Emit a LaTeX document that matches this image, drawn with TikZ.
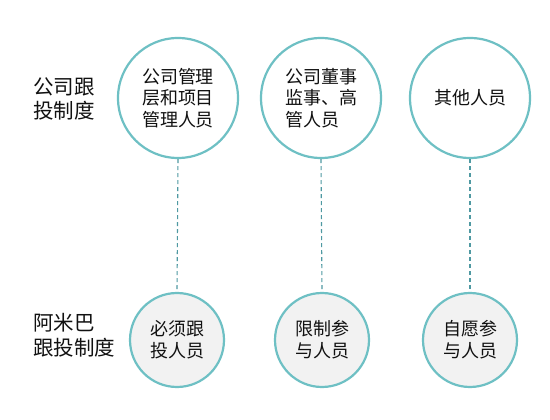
\documentclass[tikz,border=0pt]{standalone}
\usepackage{fontspec}
\setmainfont{Noto Sans CJK SC}
\begin{document}
\begin{tikzpicture}[x=1pt,y=-1pt,
  topc/.style={circle,draw=ring,line width=2.2pt,minimum size=120pt,inner sep=0pt,font=\fontsize{18}{21.5}\selectfont,text=txt},
  botc/.style={circle,draw=ring,fill=fillg,line width=2.2pt,minimum size=94pt,inner sep=0pt,font=\fontsize{18}{22}\selectfont,text=txt},
  lab/.style={anchor=west,align=left,inner sep=0pt,font=\fontsize{20.5}{24.5}\selectfont,text=txt},
  link/.style={draw=dash,line width=1.1pt,dash pattern=on 4pt off 3pt}]
\definecolor{ring}{HTML}{6EC0C4}
\definecolor{dash}{HTML}{4F99A2}
\definecolor{fillg}{HTML}{F2F2F2}
\definecolor{txt}{HTML}{111111}
\useasboundingbox (0,0) rectangle (550,420);
\fill[white] (0,0) rectangle (550,420);
\node[topc,align=left] (t1) at (178,98) {公司管理\\层和项目\\管理人员};
\node[topc,align=left] (t2) at (321,98) {公司董事\\监事、高\\管人员};
\node[topc,align=left] (t3) at (470,98) {其他人员};
\node[botc,align=left] (b1) at (177,340) {必须跟\\投人员};
\node[botc,align=left] (b2) at (322,340) {限制参\\与人员};
\node[botc,align=left] (b3) at (470,340) {自愿参\\与人员};
\node[lab] (l1) at (33,99) {公司跟\\投制度};
\node[lab] (l2) at (33,335) {阿米巴\\跟投制度};
\draw[link] (t1.south) -- (b1.north);
\draw[link] (t2.south) -- (b2.north);
\draw[link] (t3.south) -- (b3.north);
\end{tikzpicture}
\end{document}
